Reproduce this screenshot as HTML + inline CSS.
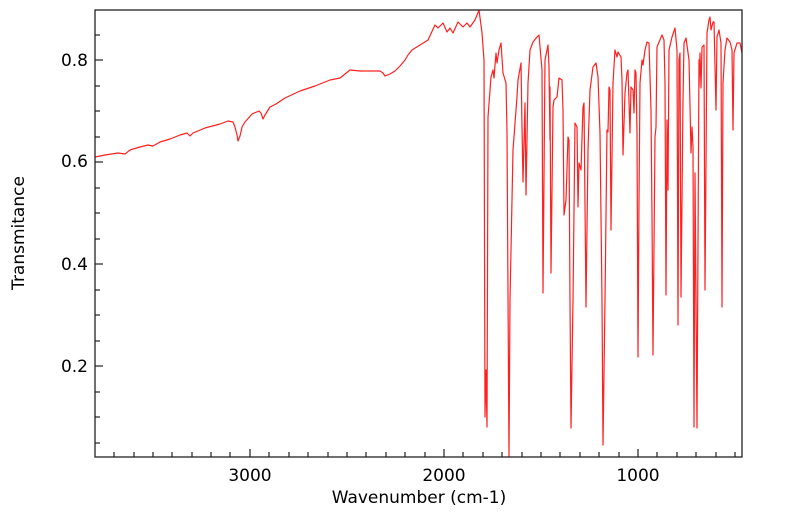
<!DOCTYPE html>
<html><head><meta charset="utf-8"><style>
html,body{margin:0;padding:0;background:#fff;}
svg{display:block;font-family:"DejaVu Sans","Liberation Sans",sans-serif;}
</style></head><body>
<svg width="799" height="516" viewBox="0 0 799 516" xmlns="http://www.w3.org/2000/svg">
<defs><clipPath id="c"><rect x="95" y="10" width="647" height="447"/></clipPath></defs>
<rect x="0" y="0" width="799" height="516" fill="#fff"/>
<g clip-path="url(#c)">
<polyline fill="none" stroke="#ff2020" stroke-width="1.2" stroke-linejoin="round" points="
95,157 105,155 118,153 125,154 130,150 140,147 148,145 153,146 160,142 170,139 180,135 187,133 190,136 193,133 205,128 220,124 228,121 233,122 235,127 237,135 238,141 240,136 242,127 245,122 252,114 259,111 261,113 263,119 265,115 270,107 276,104 285,98 300,91 315,86 320,84 330,80 340,78 350,70 360,71 370,71 380,71 383,73 385,76 390,74 395,71 400,66 405,60 408,55 412,50 420,45 428,40 435,25 438,28 443,23 447,32 450,28 453,33 458,22 463,27 467,23 470,27 475,20 479,10 482,33 484,60 485,417 486,370 487,427 488,117 491,77 493,70 494,78 496,53 497,63 499,50 501,43 503,73 506,83 507,133 509,457 510,300 513,150 517,97 518,80 521,63 522,127 523,182 525,103 526,195 528,83 530,50 533,42 537,37 539,35 542,70 543,293 545,60 548,45 549,67 550,140 550,87 551,273 553,107 554,100 557,97 559,78 562,80 563,110 564,215 566,200 568,137 569,140 570,300 571,428 573,300 575,123 577,127 578,207 579,163 581,170 583,107 584,103 586,307 588,150 590,90 593,67 596,63 598,77 600,133 602,300 603,445 605,300 607,130 608,132 609,87 610,90 611,230 613,83 615,50 617,57 618,52 621,57 622,80 623,155 625,93 627,73 628,70 630,133 631,87 633,90 634,113 635,70 636,73 637,133 638,357 639,200 640,83 642,60 643,65 645,50 647,42 649,43 651,110 652,217 653,355 655,137 656,127 657,47 662,35 664,40 665,83 666,295 667,120 668,190 669,50 672,37 675,28 677,50 678,325 679,60 680,53 681,297 683,100 684,43 686,38 689,60 691,153 692,127 693,147 694,427 695,173 697,428 699,60 699,87 700,53 701,88 702,47 704,45 705,290 707,33 709,20 710,17 711,30 713,22 714,22 716,110 717,37 719,30 721,43 722,307 723,83 725,50 727,38 730,42 732,50 733,130 734,53 737,43 740,43 742,53"/>
</g>
<rect x="95" y="10" width="647" height="447" fill="none" stroke="#222" stroke-width="1.3"/>
<g stroke="#222" stroke-width="1.2" id="ticks"></g>
<g font-size="17" fill="#000" text-anchor="end">
<text x="88" y="372">0.2</text>
<text x="88" y="270">0.4</text>
<text x="88" y="167">0.6</text>
<text x="88" y="66">0.8</text>
</g>
<g font-size="17" fill="#000" text-anchor="middle">
<text x="250" y="481">3000</text>
<text x="444" y="481">2000</text>
<text x="638" y="481">1000</text>
<text x="419" y="503">Wavenumber (cm-1)</text>
<text transform="translate(24,233) rotate(-90)">Transmitance</text>
</g>
<g stroke="#222" stroke-width="1.2">
<line x1="95" y1="366" x2="103" y2="366"/>
<line x1="95" y1="264" x2="103" y2="264"/>
<line x1="95" y1="162" x2="103" y2="162"/>
<line x1="95" y1="60" x2="103" y2="60"/>
<line x1="95" y1="443" x2="100" y2="443"/>
<line x1="95" y1="417" x2="100" y2="417"/>
<line x1="95" y1="392" x2="100" y2="392"/>
<line x1="95" y1="341" x2="100" y2="341"/>
<line x1="95" y1="315" x2="100" y2="315"/>
<line x1="95" y1="290" x2="100" y2="290"/>
<line x1="95" y1="239" x2="100" y2="239"/>
<line x1="95" y1="213" x2="100" y2="213"/>
<line x1="95" y1="188" x2="100" y2="188"/>
<line x1="95" y1="137" x2="100" y2="137"/>
<line x1="95" y1="111" x2="100" y2="111"/>
<line x1="95" y1="86" x2="100" y2="86"/>
<line x1="95" y1="35" x2="100" y2="35"/>
<line x1="250" y1="457" x2="250" y2="449"/>
<line x1="444" y1="457" x2="444" y2="449"/>
<line x1="638" y1="457" x2="638" y2="449"/>
<line x1="114" y1="457" x2="114" y2="452"/>
<line x1="134" y1="457" x2="134" y2="452"/>
<line x1="153" y1="457" x2="153" y2="452"/>
<line x1="172" y1="457" x2="172" y2="452"/>
<line x1="192" y1="457" x2="192" y2="452"/>
<line x1="211" y1="457" x2="211" y2="452"/>
<line x1="230" y1="457" x2="230" y2="452"/>
<line x1="269" y1="457" x2="269" y2="452"/>
<line x1="289" y1="457" x2="289" y2="452"/>
<line x1="308" y1="457" x2="308" y2="452"/>
<line x1="328" y1="457" x2="328" y2="452"/>
<line x1="347" y1="457" x2="347" y2="452"/>
<line x1="366" y1="457" x2="366" y2="452"/>
<line x1="386" y1="457" x2="386" y2="452"/>
<line x1="405" y1="457" x2="405" y2="452"/>
<line x1="425" y1="457" x2="425" y2="452"/>
<line x1="463" y1="457" x2="463" y2="452"/>
<line x1="483" y1="457" x2="483" y2="452"/>
<line x1="502" y1="457" x2="502" y2="452"/>
<line x1="522" y1="457" x2="522" y2="452"/>
<line x1="541" y1="457" x2="541" y2="452"/>
<line x1="560" y1="457" x2="560" y2="452"/>
<line x1="580" y1="457" x2="580" y2="452"/>
<line x1="599" y1="457" x2="599" y2="452"/>
<line x1="619" y1="457" x2="619" y2="452"/>
<line x1="657" y1="457" x2="657" y2="452"/>
<line x1="677" y1="457" x2="677" y2="452"/>
<line x1="696" y1="457" x2="696" y2="452"/>
<line x1="716" y1="457" x2="716" y2="452"/>
<line x1="735" y1="457" x2="735" y2="452"/>
</g>
</svg>
</body></html>
